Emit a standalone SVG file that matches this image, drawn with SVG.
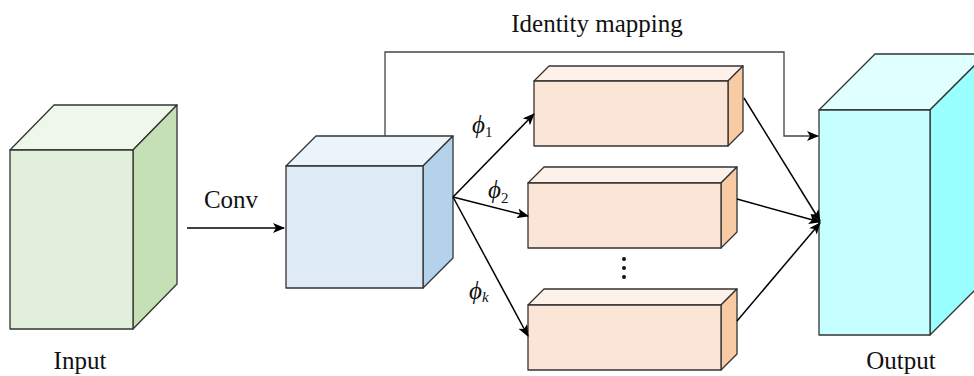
<svg xmlns="http://www.w3.org/2000/svg" width="974" height="376" viewBox="0 0 974 376">
<style>
.e{stroke:#333;stroke-width:1.3;stroke-linejoin:round}
.c{fill:none;stroke:#000;stroke-width:1.5}
.id{fill:none;stroke:#444;stroke-width:1.3}
.t{font-family:"Liberation Serif","Times New Roman",serif;font-size:25px;fill:#111}
.p{font-family:"Liberation Serif","Times New Roman",serif;font-size:25px;font-style:italic;fill:#111}
.s{font-size:15px}
.gf{fill:#e2efda}.gt{fill:#eff7eb}.gr{fill:#c5e0b4}
.bf{fill:#deebf7}.bt{fill:#ecf4fb}.br{fill:#b5d2ec}
.of{fill:#fbe5d6}.ot{fill:#fdf1e9}.or{fill:#f8cba5}
.cf{fill:#c6ffff}.ct{fill:#e0ffff}.cr{fill:#99ffff}
</style>
<defs>
<marker id="ah" markerWidth="12" markerHeight="10" refX="11" refY="5" orient="auto" markerUnits="userSpaceOnUse">
<path d="M0,0 L12,5 L0,10 L3,5 Z" fill="#000"/>
</marker>
</defs>
<g id="input">
<polygon class="e gt" points="10,150 54,105 177,105 133,150"/>
<polygon class="e gr" points="133,150 177,105 177,284 133,329"/>
<rect class="e gf" x="10" y="150" width="123" height="179"/>
<text class="t" x="80" y="369" text-anchor="middle">Input</text>
</g>
<g id="conv-cube">
<polygon class="e bt" points="286,166 316,136 453,136 423,166"/>
<polygon class="e br" points="423,166 453,136 453,258 423,288"/>
<rect class="e bf" x="286" y="166" width="137" height="122"/>
</g>
<g id="branch1">
<polygon class="e ot" points="534,81 549,66 743,66 728,81"/>
<polygon class="e or" points="728,81 743,66 743,131 728,146"/>
<rect class="e of" x="534" y="81" width="194" height="65"/>
</g>
<g id="branch2">
<polygon class="e ot" points="528,183 544,167 737,167 721,183"/>
<polygon class="e or" points="721,183 737,167 737,232 721,248"/>
<rect class="e of" x="528" y="183" width="193" height="65"/>
</g>
<g id="branchk">
<polygon class="e ot" points="528,305 544,289 737,289 721,305"/>
<polygon class="e or" points="721,305 737,289 737,354 721,370"/>
<rect class="e of" x="528" y="305" width="193" height="65"/>
</g>
<g id="ellipsis">
<circle cx="624" cy="259" r="2" fill="#111"/>
<circle cx="624" cy="268" r="2" fill="#111"/>
<circle cx="624" cy="277" r="2" fill="#111"/>
</g>
<g id="output">
<polygon class="e ct" points="819,110 875,54 986,54 930,110"/>
<polygon class="e cr" points="930,110 986,54 986,279 930,335"/>
<rect class="e cf" x="819" y="110" width="111" height="225"/>
<text class="t" x="901" y="369" text-anchor="middle">Output</text>
</g>
<g id="connectors">
<line class="c" x1="187" y1="228" x2="284" y2="228" marker-end="url(#ah)"/>
<polyline class="id" points="385,136 385,52 784,52 784,136 818,136" marker-end="url(#ah)"/>
<line class="c" x1="453" y1="197" x2="534" y2="114" marker-end="url(#ah)"/>
<line class="c" x1="453" y1="197" x2="528" y2="216" marker-end="url(#ah)"/>
<line class="c" x1="453" y1="197" x2="528" y2="336" marker-end="url(#ah)"/>
<line class="c" x1="744" y1="98" x2="820" y2="221" marker-end="url(#ah)"/>
<line class="c" x1="737" y1="199" x2="820" y2="222" marker-end="url(#ah)"/>
<line class="c" x1="737" y1="321" x2="820" y2="223" marker-end="url(#ah)"/>
</g>
<g id="labels">
<text class="t" x="597" y="32" text-anchor="middle">Identity mapping</text>
<text class="t" x="231" y="208" text-anchor="middle">Conv</text>
<text class="p" x="472" y="133">ϕ<tspan class="s" font-style="normal" dy="4">1</tspan></text>
<text class="p" x="488" y="198">ϕ<tspan class="s" font-style="normal" dy="5">2</tspan></text>
<text class="p" x="469" y="299">ϕ<tspan class="s" dy="3">k</tspan></text>
</g>
</svg>
